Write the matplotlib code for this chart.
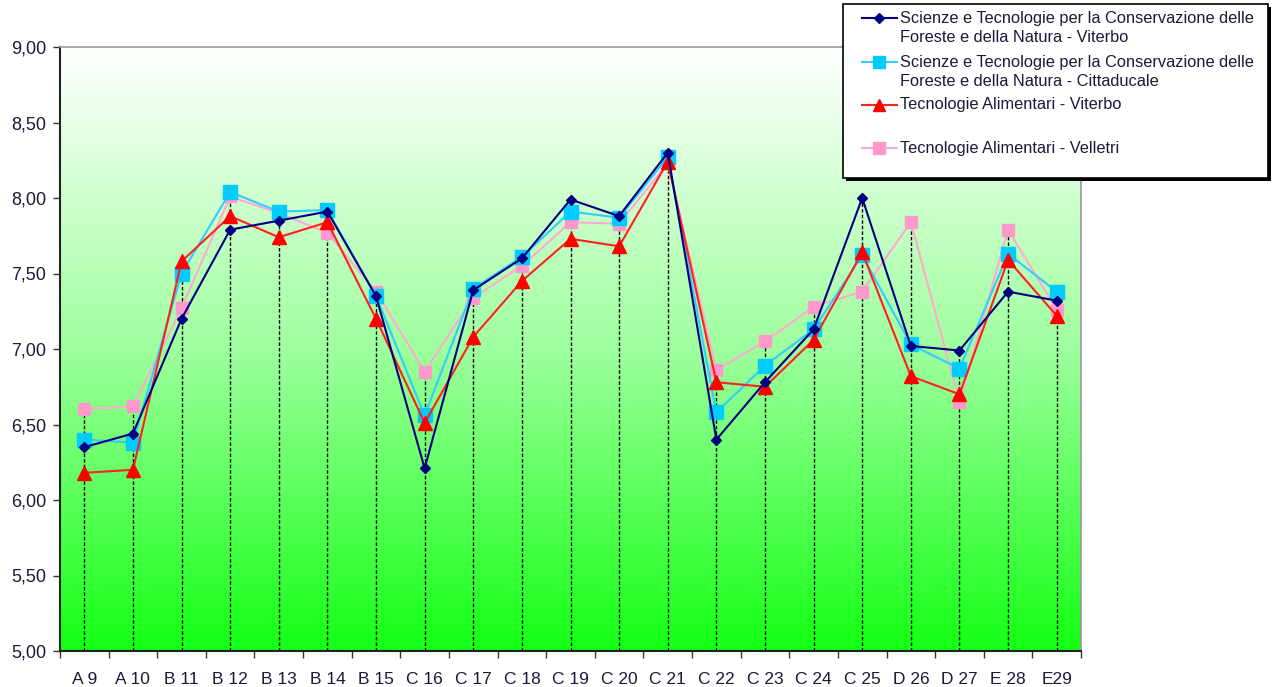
import matplotlib
matplotlib.use("Agg")
import matplotlib.pyplot as plt
import numpy as np
from matplotlib.lines import Line2D
from matplotlib.patches import Rectangle
from matplotlib.ticker import FuncFormatter, MultipleLocator

categories = ["A 9", "A 10", "B 11", "B 12", "B 13", "B 14", "B 15", "C 16", "C 17", "C 18",
              "C 19", "C 20", "C 21", "C 22", "C 23", "C 24", "C 25", "D 26", "D 27", "E 28", "E29"]

sci_viterbo = [6.35, 6.44, 7.20, 7.79, 7.85, 7.91, 7.35, 6.21, 7.39, 7.60,
               7.99, 7.88, 8.30, 6.40, 6.78, 7.13, 8.00, 7.02, 6.99, 7.38, 7.32]
sci_cittaducale = [6.40, 6.38, 7.50, 8.04, 7.91, 7.92, 7.35, 6.56, 7.40, 7.61,
                   7.91, 7.87, 8.27, 6.58, 6.89, 7.13, 7.62, 7.03, 6.87, 7.63, 7.38]
tec_viterbo = [6.18, 6.20, 7.58, 7.88, 7.74, 7.84, 7.20, 6.51, 7.08, 7.45,
               7.73, 7.68, 8.24, 6.78, 6.75, 7.06, 7.64, 6.82, 6.70, 7.59, 7.22]
tec_velletri = [6.60, 6.62, 7.27, 8.01, 7.90, 7.77, 7.38, 6.85, 7.34, 7.55,
                7.84, 7.83, 8.23, 6.86, 7.05, 7.28, 7.38, 7.84, 6.65, 7.79, 7.26]

labels = ["Scienze e Tecnologie per la Conservazione delle\nForeste e della Natura - Viterbo",
          "Scienze e Tecnologie per la Conservazione delle\nForeste e della Natura - Cittaducale",
          "Tecnologie Alimentari - Viterbo",
          "Tecnologie Alimentari - Velletri"]

plt.rcParams['font.family'] = ['Liberation Sans', 'DejaVu Sans']

W, H = 1272, 687
fig = plt.figure(figsize=(W / 100, H / 100), dpi=100)
left, right, top, bottom = 60, 1081, 47, 651
ax = fig.add_axes([left / W, 1 - bottom / H, (right - left) / W, (bottom - top) / H])

n = len(categories)
x = np.arange(n)
ax.set_xlim(-0.5, n - 0.5)
ax.set_ylim(5, 9)

# gradient background
grad = np.linspace(0, 1, 256)
top_c = np.array([1.0, 1.0, 1.0])
bot_c = np.array([0.08, 1.0, 0.08])
mid_c = np.array([0.62, 1.0, 0.62])
cols = np.zeros((256, 1, 3))
for i, t in enumerate(grad):
    if t < 0.5:
        c = bot_c + (mid_c - bot_c) * (t / 0.5)
    else:
        c = mid_c + (top_c - mid_c) * ((t - 0.5) / 0.5)
    cols[i, 0] = c
ax.imshow(cols, aspect='auto', extent=(-0.5, n - 0.5, 5, 9), origin='lower', zorder=0)

# drop lines
series = [sci_viterbo, sci_cittaducale, tec_viterbo, tec_velletri]
maxv = np.max(np.array(series), axis=0)
ax.vlines(x, 5, maxv, colors='black', linestyles=(0, (2.5, 1.5)), linewidth=1.0, zorder=1)

styles = [
    dict(color='#000080', marker='D', markersize=5, mfc='#000080', mec='#000080'),
    dict(color='#33ccff', marker='s', markersize=10, mfc='#00ccff', mec='#00ccff'),
    dict(color='#ff2020', marker='^', markersize=10, mfc='#ff0000', mec='#ff0000'),
    dict(color='#ffaacc', marker='s', markersize=9, mfc='#ff99cc', mec='#ff99cc'),
]
zs = [5, 3, 4, 2]
for s, st, z in zip(series, styles, zs):
    ax.plot(x, s, linewidth=1.5, zorder=z, **st)

ax.yaxis.set_major_locator(MultipleLocator(0.5))
ax.yaxis.set_major_formatter(FuncFormatter(lambda v, p: f"{v:.2f}".replace('.', ',')))
ax.set_xticks(x)
ax.set_xticklabels(categories)
ax.set_xticks(np.arange(-0.5, n, 1), minor=True)
ax.tick_params(axis='x', which='major', length=0, pad=15, labelsize=12.5)
ax.tick_params(axis='x', which='minor', length=5, width=1, direction='out', color='#333333')
ax.tick_params(axis='y', length=5, width=1, direction='out', labelsize=13, pad=5, color='#333333')
for lbl in ax.get_yticklabels() + ax.get_xticklabels():
    lbl.set_color('#1a1a3a')

ax.spines['left'].set_color('#222222')
ax.spines['left'].set_linewidth(1.5)
ax.spines['bottom'].set_color('#222222')
ax.spines['bottom'].set_linewidth(1.5)
ax.spines['top'].set_color('#999999')
ax.spines['right'].set_color('#999999')
ax.spines['top'].set_linewidth(1.2)
ax.spines['right'].set_linewidth(1.2)

# legend drawn manually in figure pixel coordinates
def fx(px):
    return px / W

def fy(py):
    return 1 - py / H

lx0, ly0, lx1, ly1 = 843, 4, 1268, 178
fig.patches.append(Rectangle((fx(lx0 + 3), fy(ly1 + 3)), fx(lx1 - lx0), (ly1 - ly0) / H,
                             transform=fig.transFigure, facecolor='black', edgecolor='none', zorder=9))
fig.patches.append(Rectangle((fx(lx0), fy(ly1)), fx(lx1 - lx0), (ly1 - ly0) / H,
                             transform=fig.transFigure, facecolor='white', edgecolor='black',
                             linewidth=1.2, zorder=10))
entry_y = [18, 62, 105, 148]
text_lines = [["Scienze e Tecnologie per la Conservazione delle", "Foreste e della Natura - Viterbo"],
              ["Scienze e Tecnologie per la Conservazione delle", "Foreste e della Natura - Cittaducale"],
              ["Tecnologie Alimentari - Viterbo"],
              ["Tecnologie Alimentari - Velletri"]]
ms_leg = [5, 8, 8, 8]
for ey, st, lines, ms in zip(entry_y, styles, text_lines, ms_leg):
    fig.add_artist(Line2D([fx(862), fx(897)], [fy(ey), fy(ey)], transform=fig.transFigure,
                          linewidth=1.5, color=st['color'], zorder=11))
    fig.add_artist(Line2D([fx(879)], [fy(ey)], transform=fig.transFigure, linestyle='none',
                          zorder=12, marker=st['marker'], markersize=ms,
                          mfc=st['mfc'], mec=st['mec']))
    for k, t in enumerate(lines):
        fig.text(fx(900), fy(ey + k * 19), t, fontsize=11.8, color='#1a1a3a',
                 va='center', ha='left', zorder=12)

fig.savefig("out.png", dpi=100)
